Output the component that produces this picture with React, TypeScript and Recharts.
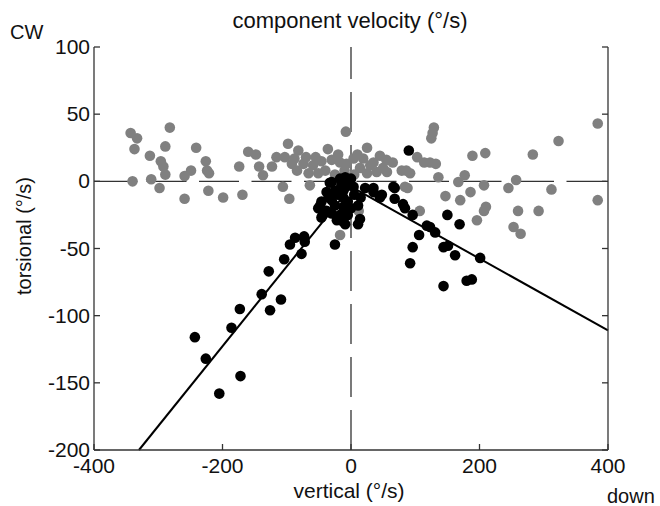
import React from "react";
import {
  ScatterChart,
  Scatter,
  XAxis,
  YAxis,
  ReferenceLine,
} from "recharts";

const FONT = '"Liberation Sans", Arial, Helvetica, sans-serif';

const xTicks = [-400, -200, 0, 200, 400];
const yTicks = [-200, -150, -100, -50, 0, 50, 100];
const xDomain = [-400, 400];
const yDomain = [-200, 100];

// gray: all saccades (torsional vs vertical)
const grayPoints = [
  { x: -343, y: 36 }, { x: -333, y: 32 }, { x: -282, y: 40 }, { x: -337, y: 24 },
  { x: -289, y: 26 }, { x: -313, y: 19 }, { x: -241, y: 25 }, { x: -296, y: 15 },
  { x: -292, y: 11 }, { x: -289, y: 5 }, { x: -340, y: 0 }, { x: -311, y: 1.5 },
  { x: -298, y: -5 }, { x: -259, y: 4 }, { x: -249, y: 8 }, { x: -226, y: 15 },
  { x: -224, y: 8 }, { x: -221, y: 6 }, { x: -259, y: -13 }, { x: -222, y: -7 },
  { x: -199, y: -12 }, { x: -169, y: -10 }, { x: -174, y: 11 }, { x: -160, y: 22 },
  { x: -148, y: 20 }, { x: -143, y: 11 }, { x: -137, y: 4.5 }, { x: -106, y: -4 },
  { x: -96, y: -13 }, { x: -98, y: 28 }, { x: -82, y: 23 }, { x: -36, y: 24 },
  { x: -8, y: 37 }, { x: -123, y: 11 }, { x: -64, y: -3 }, { x: -116, y: 18 },
  { x: -103, y: 18 }, { x: -92, y: 13 }, { x: -74, y: 13 }, { x: -59, y: 12 },
  { x: -46, y: 15 }, { x: -30, y: 16 }, { x: -17, y: 14 }, { x: -84, y: 8 },
  { x: -66, y: 6 }, { x: -51, y: 6 }, { x: -7, y: 13 }, { x: -17, y: -40 },
  { x: -40, y: 8 }, { x: -25, y: 5 }, { x: -10, y: 8 }, { x: 5, y: 5 },
  { x: 25, y: 6 }, { x: -55, y: 18 }, { x: 45, y: 19 },
  { x: -70, y: 18 }, { x: 10, y: 20 }, { x: 30, y: 12 }, { x: -20, y: 20 },
  { x: 55, y: 16 }, { x: -88, y: 17 },
  { x: 25, y: 25 }, { x: 129, y: 40 }, { x: 127, y: 36 }, { x: 125, y: 32 },
  { x: 103, y: 18 }, { x: 114, y: 14 }, { x: 123, y: 14 }, { x: 132, y: 13 },
  { x: 136, y: 3 }, { x: 65, y: 14 }, { x: 50, y: 10 }, { x: 86, y: 8 },
  { x: 92, y: 6 }, { x: 88, y: -5 }, { x: 147, y: -11 }, { x: 170, y: -14 },
  { x: 167, y: -0.5 }, { x: 177, y: 4.5 }, { x: 186, y: -8 }, { x: 189, y: 19 },
  { x: 209, y: 21 }, { x: 207, y: -3 }, { x: 210, y: -19 }, { x: 207, y: -22 },
  { x: 196, y: -29 }, { x: 245, y: -5 }, { x: 257, y: 1 }, { x: 260, y: -22 },
  { x: 253, y: -34 }, { x: 264, y: -39 }, { x: 292, y: -22 }, { x: 283, y: 20 },
  { x: 323, y: 30 }, { x: 312, y: -6 }, { x: 384, y: 43 }, { x: 384, y: -14 },
  { x: 107, y: -22 }, { x: 4, y: 17 }, { x: 19, y: 17 }, { x: 35, y: 14 },
  { x: 79, y: 8 }, { x: 56, y: 7 }, { x: 40, y: 7 }, { x: 14, y: 10 },
  { x: 84, y: -4 }, { x: 12, y: -22 },
];

// black: selected saccades
const blackPoints = [
  { x: 90, y: 23 }, { x: 68, y: -5 }, { x: 68, y: -13 }, { x: 81, y: -17 },
  { x: 96, y: -25 }, { x: 150, y: -25 }, { x: 169, y: -32 }, { x: 123, y: -34 },
  { x: 106, y: -40 }, { x: 45, y: -12 }, { x: 35, y: -5 }, { x: -9, y: -32 },
  { x: 11, y: -32 }, { x: -25, y: -47 }, { x: 131, y: -38 }, { x: 96, y: -49 },
  { x: 92, y: -61 }, { x: 144, y: -49 }, { x: 151, y: -48 }, { x: 162, y: -55 },
  { x: 201, y: -57 }, { x: 144, y: -78 }, { x: 180, y: -74 }, { x: 188, y: -73 },
  { x: -95, y: -47 }, { x: -87, y: -42 }, { x: -73, y: -41 }, { x: -72, y: -45 },
  { x: -77, y: -54 }, { x: -104, y: -58 }, { x: -128, y: -67 }, { x: -139, y: -84 },
  { x: -109, y: -88 }, { x: -126, y: -96 }, { x: -173, y: -95 }, { x: -186, y: -109 },
  { x: -243, y: -116 }, { x: -226, y: -132 }, { x: -172, y: -145 }, { x: -205, y: -158 },
  { x: -30, y: -0.5 }, { x: -17, y: 2 }, { x: -9, y: 3 }, { x: -38, y: -8 },
  { x: -25, y: -7 }, { x: -46, y: -15 }, { x: -30, y: -14 }, { x: -51, y: -20 },
  { x: -38, y: -22 }, { x: -46, y: -27 }, { x: -30, y: -24 }, { x: -17, y: -25 },
  { x: -22, y: -29 }, { x: -12, y: -12 }, { x: -8, y: -4 }, { x: -4, y: -2 },
  { x: -12, y: -7 }, { x: 4, y: -4 }, { x: 22, y: -5 }, { x: 35, y: -8 },
  { x: 48, y: -10 }, { x: 66, y: -4 }, { x: 84, y: -20 }, { x: 11, y: -18 },
  { x: 14, y: -28 }, { x: -12, y: -30 }, { x: 118, y: -33 }, { x: -33, y: -1 },
  { x: -48, y: -18 }, { x: -44, y: -25 }, { x: -12, y: -19 },
  { x: -20, y: -10 }, { x: -5, y: -15 }, { x: 5, y: -10 }, { x: -35, y: -12 },
  { x: 0, y: -20 }, { x: -25, y: -18 }, { x: 15, y: -12 }, { x: -15, y: -3 },
  { x: 0, y: 2 }, { x: -5, y: -25 },
];

// fitted lines
const upLine = [{ x: -330, y: -200 }, { x: 0, y: -4 }];
const downLine = [{ x: 0, y: -4 }, { x: 400, y: -111 }];

const AX = "#333";

const dot = (fill: string) => (p: any) =>
  p.cx == null ? <g /> : <circle cx={p.cx} cy={p.cy} r={5.3} fill={fill} />;

const BottomTick = (p: any) => (
  <g>
    <line x1={p.x} x2={p.x} y1={p.y} y2={p.y - 6} stroke={AX} strokeWidth={1.3} />
    <text x={p.x} y={p.y + 23} textAnchor="middle" fontSize={21} fontFamily={FONT} fill="#111">
      {p.payload.value}
    </text>
  </g>
);
const TopTick = (p: any) => (
  <line x1={p.x} x2={p.x} y1={p.y} y2={p.y + 6} stroke={AX} strokeWidth={1.3} />
);
const LeftTick = (p: any) => (
  <g>
    <line x1={p.x} x2={p.x + 6} y1={p.y} y2={p.y} stroke={AX} strokeWidth={1.3} />
    <text x={p.x - 4} y={p.y + 7} textAnchor="end" fontSize={21} fontFamily={FONT} fill="#111">
      {p.payload.value}
    </text>
  </g>
);
const RightTick = (p: any) => (
  <line x1={p.x} x2={p.x - 6} y1={p.y} y2={p.y} stroke={AX} strokeWidth={1.3} />
);

export default function App() {
  return (
    <div style={{ position: "absolute", left: 0, top: 0, width: 660, height: 506, background: "#fff" }}>
      <ScatterChart width={660} height={506} margin={{ top: 47, right: 0, bottom: 0, left: 0 }}>
        <XAxis
          type="number"
          dataKey="x"
          domain={xDomain}
          ticks={xTicks}
          allowDataOverflow
          height={56}
          tickSize={0}
          tickMargin={0}
          tickLine={false}
          axisLine={{ stroke: AX, strokeWidth: 1.3 }}
          tick={BottomTick}
        />
        <XAxis
          xAxisId="top"
          orientation="top"
          type="number"
          domain={xDomain}
          ticks={xTicks}
          allowDataOverflow
          height={0}
          tickSize={0}
          tickMargin={0}
          tickLine={false}
          axisLine={{ stroke: AX, strokeWidth: 1.3 }}
          tick={TopTick}
        />
        <YAxis
          type="number"
          dataKey="y"
          domain={yDomain}
          ticks={yTicks}
          allowDataOverflow
          width={94}
          tickSize={0}
          tickMargin={0}
          tickLine={false}
          axisLine={{ stroke: AX, strokeWidth: 1.3 }}
          tick={LeftTick}
        />
        <YAxis
          yAxisId="right"
          orientation="right"
          type="number"
          domain={yDomain}
          ticks={yTicks}
          allowDataOverflow
          width={52}
          tickSize={0}
          tickMargin={0}
          tickLine={false}
          axisLine={{ stroke: AX, strokeWidth: 1.3 }}
          tick={RightTick}
        />
        <ReferenceLine x={0} stroke={AX} strokeWidth={1.3} strokeDasharray="40 13" />
        <ReferenceLine y={0} stroke={AX} strokeWidth={1.3} strokeDasharray="40 12.5" />
        <Scatter data={grayPoints} shape={dot("#808080")} isAnimationActive={false} />
        <Scatter data={blackPoints} shape={dot("#000")} isAnimationActive={false} />
        <ReferenceLine segment={upLine} stroke="#000" strokeWidth={2} ifOverflow="visible" />
        <ReferenceLine segment={downLine} stroke="#000" strokeWidth={2} ifOverflow="visible" />
        <text x={350} y={28} textAnchor="middle" fontSize={22} fontFamily={FONT} fill="#111">
          component velocity (°/s)
        </text>
        <text x={10} y={39} fontSize={20} fontFamily={FONT} fill="#111">
          CW
        </text>
        <text x={607} y={503} fontSize={20} fontFamily={FONT} fill="#111">
          down
        </text>
        <text x={349} y={498} textAnchor="middle" fontSize={21} fontFamily={FONT} fill="#111">
          vertical (°/s)
        </text>
        <text
          x={31}
          y={236}
          textAnchor="middle"
          fontSize={20}
          fontFamily={FONT}
          fill="#111"
          transform="rotate(-90, 31, 236)"
        >
          torsional (°/s)
        </text>
      </ScatterChart>
    </div>
  );
}
